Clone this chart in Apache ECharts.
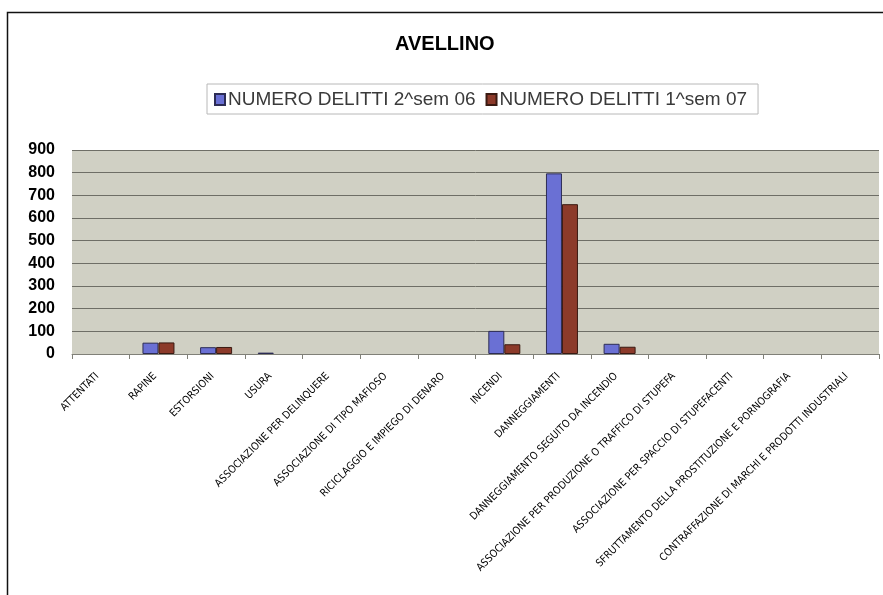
<!DOCTYPE html>
<html>
<head>
<meta charset="utf-8">
<script src="https://cdn.jsdelivr.net/npm/echarts@6/dist/echarts.min.js"></script>
<style>
  html, body { margin: 0; padding: 0; background: #fff; }
  #chart { width: 883px; height: 595px; }
</style>
</head>
<body>
<div id="chart"></div>
<script>
// Crime categories (x axis)
const categories = [
  'ATTENTATI',
  'RAPINE',
  'ESTORSIONI',
  'USURA',
  'ASSOCIAZIONE PER DELINQUERE',
  'ASSOCIAZIONE DI TIPO MAFIOSO',
  'RICICLAGGIO E IMPIEGO DI DENARO',
  'INCENDI',
  'DANNEGGIAMENTI',
  'DANNEGGIAMENTO SEGUITO DA INCENDIO',
  'ASSOCIAZIONE PER PRODUZIONE O TRAFFICO DI STUPEFA',
  'ASSOCIAZIONE PER SPACCIO DI STUPEFACENTI',
  'SFRUTTAMENTO DELLA PROSTITUZIONE E PORNOGRAFIA',
  'CONTRAFFAZIONE DI MARCHI E PRODOTTI INDUSTRIALI'
];

// Series names
const seriesNames = ['NUMERO DELITTI 2^sem 06', 'NUMERO DELITTI 1^sem 07'];

// Number of crimes per semester (null = no crimes recorded)
const delitti2sem06 = [null, 50, 30, 6, null, null, null, 102, 797, 45, null, null, null, null];
const delitti1sem07 = [null, 51, 31, null, null, null, null, 43, 661, 32, null, null, null, null];

// Value axis ticks
const yMin = 0, yMax = 900, yStep = 100;

const chart = echarts.init(document.getElementById('chart'), null, { renderer: 'canvas' });

chart.setOption({
  backgroundColor: '#ffffff',
  animation: false,
  graphic: [{
    type: 'rect',
    shape: { x: 7.5, y: 12.5, width: 1000, height: 1000 },
    style: { fill: 'none', stroke: '#111', lineWidth: 1.5 },
    silent: true
  }],
  title: {
    text: 'AVELLINO',
    left: 395,
    top: 34,
    padding: 0,
    textStyle: {
      fontFamily: 'Liberation Sans, Arial, sans-serif',
      fontSize: 20,
      fontWeight: 'bold',
      color: '#000'
    }
  },
  legend: {
    left: 207,
    top: 84,
    padding: [6, 11, 5, 7],
    itemWidth: 10,
    itemHeight: 11,
    itemGap: 10,
    icon: 'rect',
    borderColor: '#b8b8b8',
    borderWidth: 1,
    textStyle: {
      fontFamily: 'Liberation Sans, Arial, sans-serif',
      fontSize: 19,
      color: '#3a3a3a',
      padding: [0, 0, 0, -2]
    },
    data: seriesNames
  },
  grid: {
    left: 72,
    right: 4,
    top: 150,
    bottom: 241,
    show: true,
    backgroundColor: '#d0d0c4',
    borderWidth: 0
  },
  xAxis: {
    type: 'category',
    data: categories,
    boundaryGap: true,
    axisLine: { show: true, lineStyle: { color: '#808078', width: 1 } },
    axisTick: { show: true, length: 5, lineStyle: { color: '#808078' } },
    axisLabel: {
      interval: 0,
      rotate: 45,
      margin: 17,
      padding: [0, 5, 0, 0],
      fontFamily: 'Liberation Sans Narrow, DejaVu Sans Condensed, sans-serif',
      fontSize: 10.5,
      color: '#000'
    }
  },
  yAxis: {
    type: 'value',
    min: yMin,
    max: yMax,
    interval: yStep,
    axisLine: { show: false },
    axisTick: { show: false },
    axisLabel: {
      margin: 17,
      fontFamily: 'Liberation Sans, Arial, sans-serif',
      fontSize: 16,
      fontWeight: 'bold',
      color: '#000'
    },
    splitLine: { show: true, lineStyle: { color: '#6e6e66', width: 1 } }
  },
  series: [
    {
      name: seriesNames[0],
      type: 'bar',
      data: delitti2sem06,
      barWidth: 16,
      barGap: '0%',
      itemStyle: { color: '#6a70d4', borderColor: '#2c2c55', borderWidth: 1 }
    },
    {
      name: seriesNames[1],
      type: 'bar',
      data: delitti1sem07,
      barWidth: 16,
      barGap: '0%',
      itemStyle: { color: '#8c3a2a', borderColor: '#3a1a12', borderWidth: 1 }
    }
  ]
});
</script>
</body>
</html>
